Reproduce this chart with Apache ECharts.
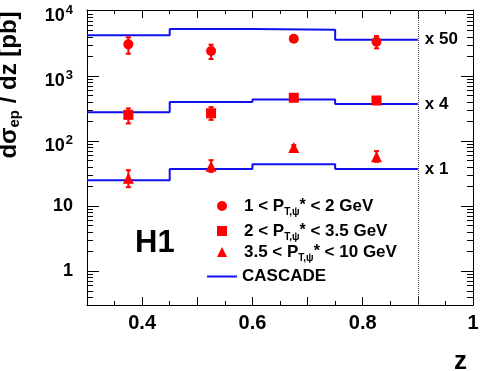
<!DOCTYPE html>
<html>
<head>
<meta charset="utf-8">
<script src="https://cdn.jsdelivr.net/npm/echarts@6/dist/echarts.min.js"></script>
<style>
html,body{margin:0;padding:0;background:#fff;}
#c{width:485px;height:371px;}
</style>
</head>
<body>
<div id="c"></div>
<script>
// ---- data (values as plotted, already scaled) ----
const zCenters = [0.375, 0.525, 0.675, 0.825];
const binEdges = [0.3, 0.45, 0.6, 0.75, 0.9];

const pt1Name = '1 < PT,ψ* < 2 GeV';
const pt1Vals = [3040, 2400, 3710, 3340];
const pt1Low  = [2180, 1810, 3450, 2640];
const pt1High = [3900, 3000, 3990, 4080];

const pt2Name = '2 < PT,ψ* < 3.5 GeV';
const pt2Vals = [251, 265, 459, 417];
const pt2Low  = [185, 210, 430, 385];
const pt2High = [315, 330, 490, 455];

const pt3Name = '3.5 < PT,ψ* < 10 GeV';
const pt3Vals = [26.6, 40.8, 79.2, 56.7];
const pt3Low  = [19.4, 33.3, 73, 47.5];
const pt3High = [35.4, 50.5, 86, 69.5];

const cascadeName = 'CASCADE';
const casc1 = [4180, 5230, 5100, 3580];
const casc2 = [274, 394, 433, 367];
const casc3 = [24.9, 37, 43.8, 37];
const scaleLabels = ['x 50', 'x 4', 'x 1'];

const xTickLabels = {'0.4':'0.4','0.6':'0.6','0.8':'0.8','1':'1'};
const yMinorTickVals = [0.4,0.5,0.6,0.7,0.8,0.9,2,3,4,5,6,7,8,9,20,30,40,50,60,70,80,90,
  200,300,400,500,600,700,800,900,2000,3000,4000,5000,6000,7000,8000,9000];

// ---- helpers ----
const FONT = '"Liberation Sans", Arial, Helvetica, sans-serif';
const RED = '#ff0000', BLUE = '#1010ee';

function pts(vals){ return zCenters.map((z,i)=>[z, vals[i]]); }
function errs(lo,hi){ return zCenters.map((z,i)=>[z, lo[i], hi[i]]); }
function hist(vals){
  const d = binEdges.slice(0,-1).map((e,i)=>[e, vals[i]]);
  d.push([binEdges[binEdges.length-1], vals[vals.length-1]]);
  return d;
}
function errSeries(lo,hi){
  return {
    type:'custom', silent:true, z:3,
    data: errs(lo,hi),
    encode:{x:0, y:[1,2]},
    renderItem: function(params, api){
      const x = api.value(0);
      const a = api.coord([x, api.value(1)]);
      const b = api.coord([x, api.value(2)]);
      const w = 2.5;
      const st = {stroke:RED, lineWidth:2};
      return {type:'group', children:[
        {type:'line', shape:{x1:a[0],y1:a[1],x2:b[0],y2:b[1]}, style:st},
        {type:'line', shape:{x1:a[0]-w,y1:a[1],x2:a[0]+w,y2:a[1]}, style:st},
        {type:'line', shape:{x1:b[0]-w,y1:b[1],x2:b[0]+w,y2:b[1]}, style:st}
      ]};
    }
  };
}
function cascSeries(vals, lbl, extra){
  return Object.assign({
    name: cascadeName, type:'line', step:'end', symbol:'none', showSymbol:false, z:2,
    data: hist(vals),
    lineStyle:{color:BLUE, width:2}, itemStyle:{color:BLUE},
    endLabel:{show:true, formatter: lbl, distance:7, color:'#000',
      fontFamily:FONT, fontWeight:'bold', fontSize:17},
    emphasis:{disabled:true}
  }, extra||{});
}

const legRich = {
  g:{width:12},
  n:{fontFamily:FONT, fontWeight:'bold', fontSize:17, lineHeight:22, color:'#000'},
  s:{fontFamily:FONT, fontWeight:'bold', fontSize:10, lineHeight:10, padding:[12,0,0,0], verticalAlign:'top', color:'#000'},
  a:{fontFamily:FONT, fontWeight:'bold', fontSize:16, lineHeight:22, color:'#000'}
};
function legFmt(name){
  if (name === cascadeName) return '{n|' + name + '}';
  const parts = name.split('PT,ψ*');
  return '{g|}{n|' + parts[0] + 'P}{s|T,ψ}{a|*}{n|' + parts[1] + '}';
}
function leg(name, left, top, icon, iw, ih, color){
  const item = {name:name, icon:icon};
  if (color) item.itemStyle = {color:color, borderWidth:0};
  return {data:[item], left:left, top:top, orient:'vertical',
    itemWidth:iw, itemHeight:ih, padding:0, selectedMode:false,
    formatter:legFmt, textStyle:{rich:legRich}};
}

const chart = echarts.init(document.getElementById('c'), null, {renderer:'canvas'});
const grid = {left:87, right:12, top:10, bottom:66, outerBoundsMode:'none', containLabel:false};

const option = {
  animation:false,
  backgroundColor:'#fff',
  grid: grid,
  legend: [
    leg(pt1Name, 217, 195, 'circle', 10, 10),
    leg(pt2Name, 217, 220, 'rect', 10, 10),
    leg(pt3Name, 217, 241, 'triangle', 10, 10),
    leg(cascadeName, 207, 268, 'rect', 30, 2, BLUE)
  ],
  xAxis: [{
    type:'value', min:0.3, max:1.0, interval:0.1,
    name:'z', nameLocation:'end', nameGap:-19,
    nameTextStyle:{fontFamily:FONT, fontWeight:'bold', fontSize:26, color:'#000',
      verticalAlign:'top', padding:[44,0,0,0]},
    axisLine:{onZero:false, lineStyle:{color:'#000', width:1}},
    axisTick:{inside:true, length:8, lineStyle:{color:'#000'}},
    minorTick:{show:true, splitNumber:2, length:4, lineStyle:{color:'#000'}},
    splitLine:{show:false},
    axisLabel:{margin:8, fontFamily:FONT, fontWeight:'bold', fontSize:20, color:'#000',
      formatter: v => xTickLabels[String(Math.round(v*10)/10)] || ''}
  },{
    type:'value', min:0.3, max:1.0, interval:0.1, position:'top',
    axisLine:{onZero:false, lineStyle:{color:'#000', width:1}},
    axisTick:{inside:true, length:8, lineStyle:{color:'#000'}},
    minorTick:{show:true, splitNumber:2, length:4, lineStyle:{color:'#000'}},
    splitLine:{show:false}, axisLabel:{show:false}
  }],
  yAxis: [{
    type:'log', min:0.3, max:10250, logBase:10,
    name:'{m|dσ}{s|ep}{m| / dz [pb]}', nameLocation:'middle', nameGap:63, nameRotate:90,
    nameTextStyle:{padding:[0,0,0,145], rich:{
      m:{fontFamily:FONT, fontWeight:'bold', fontSize:24, lineHeight:30, color:'#000'},
      s:{fontFamily:FONT, fontWeight:'bold', fontSize:15, lineHeight:15, padding:[13,0,0,0], verticalAlign:'top', color:'#000'}
    }},
    axisLine:{onZero:false, lineStyle:{color:'#000', width:1}},
    axisTick:{inside:true, length:12, lineStyle:{color:'#000'}},
    splitLine:{show:false}, minorTick:{show:false},
    axisLabel:{margin:14, formatter: function(v){
        const l = Math.log10(v), r = Math.round(l);
        if (Math.abs(l-r) > 1e-6) return '';
        if (r === 0) return '{p|1}';
        if (r === 1) return '{p|10}';
        return '{b|10}{u|' + r + '}';
      }, rich:{
        p:{fontFamily:FONT, fontWeight:'bold', fontSize:18, color:'#000'},
        b:{fontFamily:FONT, fontWeight:'bold', fontSize:18, lineHeight:18, padding:[10,0,0,0], color:'#000'},
        u:{fontFamily:FONT, fontWeight:'bold', fontSize:13, lineHeight:13, padding:[0,0,0,1], color:'#000'}
      }}
  },{
    type:'log', min:0.3, max:10250, logBase:10, position:'right',
    axisLine:{onZero:false, lineStyle:{color:'#000', width:1}},
    axisTick:{inside:true, length:12, lineStyle:{color:'#000'}},
    splitLine:{show:false}, axisLabel:{show:false}
  }],
  series: [
    {
      type:'custom', silent:true, z:1,
      data: yMinorTickVals.map(v=>[0.3, v]),
      encode:{x:0, y:1},
      renderItem: function(params, api){
        const p = api.coord([0.3, api.value(1)]);
        const cs = params.coordSys;
        const st = {stroke:'#000', lineWidth:1};
        const y = Math.round(p[1]) + 0.5;
        return {type:'group', children:[
          {type:'line', shape:{x1:cs.x, y1:y, x2:cs.x+6, y2:y}, style:st},
          {type:'line', shape:{x1:cs.x+cs.width-6, y1:y, x2:cs.x+cs.width, y2:y}, style:st}
        ]};
      }
    },
    cascSeries(casc1, scaleLabels[0], {markLine:{silent:true, symbol:'none',
      label:{show:false}, lineStyle:{type:'dotted', color:'#555', width:1},
      data:[{xAxis:0.9}]}}),
    cascSeries(casc2, scaleLabels[1]),
    cascSeries(casc3, scaleLabels[2]),
    errSeries(pt1Low, pt1High),
    errSeries(pt2Low, pt2High),
    errSeries(pt3Low, pt3High),
    {name:pt1Name, type:'scatter', symbol:'circle', symbolSize:10, z:4,
      itemStyle:{color:RED, opacity:1}, data:pts(pt1Vals), emphasis:{disabled:true}},
    {name:pt2Name, type:'scatter', symbol:'rect', symbolSize:10, z:4,
      itemStyle:{color:RED, opacity:1}, data:pts(pt2Vals), emphasis:{disabled:true}},
    {name:pt3Name, type:'scatter', symbol:'triangle', symbolSize:11, z:4,
      itemStyle:{color:RED, opacity:1}, data:pts(pt3Vals), emphasis:{disabled:true}}
  ],
  graphic: [{
    type:'text', left:135, top:228,
    style:{text:'H1', fontFamily:FONT, fontWeight:'bold', fontSize:31, fill:'#000'}
  }]
};
chart.setOption(option);
</script>
</body>
</html>
